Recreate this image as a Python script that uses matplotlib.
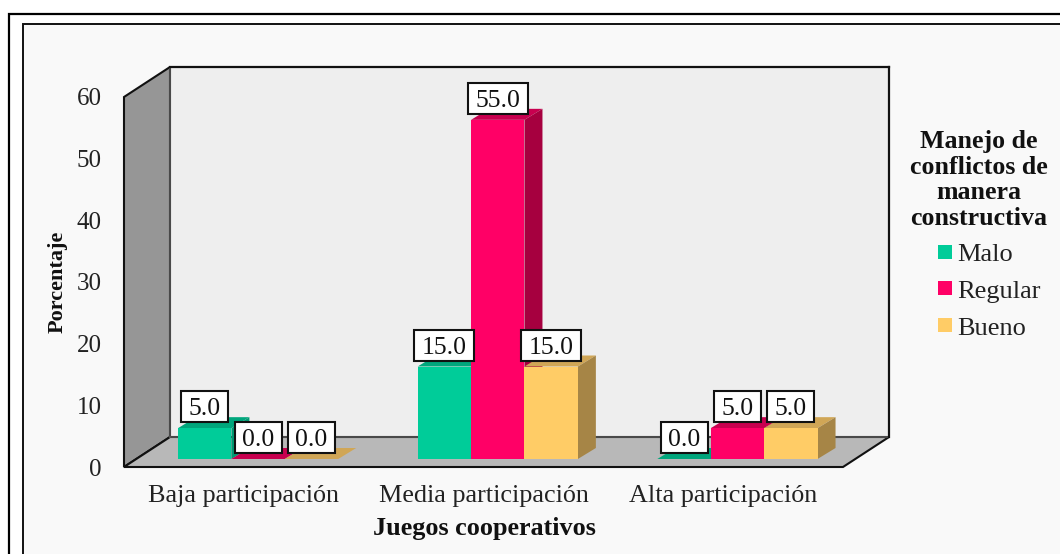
## 3D style grouped bar chart drawn on flat axes

import matplotlib
matplotlib.use('Agg')
import matplotlib.pyplot as plt
from matplotlib.patches import Polygon, Rectangle
from matplotlib.transforms import IdentityTransform

WIDTH = 1060
HEIGHT = 554

categories = ['Baja participación', 'Media participación', 'Alta participación']
series_names = ['Malo', 'Regular', 'Bueno']
malo = [5.0, 15.0, 0.0]
regular = [0.0, 55.0, 5.0]
bueno = [0.0, 15.0, 5.0]
y_ticks = [0, 10, 20, 30, 40, 50, 60]

legend_title = 'Manejo de\nconflictos de\nmanera\nconstructiva'
x_title = 'Juegos cooperativos'
y_title = 'Porcentaje'

# front, top and side colour of each series
front_colors = ['#00CC99', '#FF0066', '#FFCC66']
top_colors = ['#00A67C', '#C8004F', '#D0A656']
side_colors = ['#009973', '#A6003F', '#A68546']

# plot box in pixels (origin at the bottom)
LEFT, RIGHT = 124, 843
BOTTOM, TOP = HEIGHT - 467, HEIGHT - 97

# depths in pixels, turned into data units below
WALL_DX, WALL_DY = 46, 30
BAR_DX, BAR_DY = 18, 11
FLOOR_DX, FLOOR_DY = 8, 8
BAR_W = 53.4
BOX_W, BOX_H, BOX_GAP = 47, 31, 6
BOX_W_PER_CHAR = 13

plt.rcParams['font.family'] = ['Liberation Serif', 'DejaVu Serif']

fig = plt.figure(figsize=(WIDTH / 100, HEIGHT / 100), dpi=100, facecolor='white')

# nested frames behind the chart, they run off the right and bottom edges
fig.add_artist(Rectangle((9, -20), 1100, HEIGHT - 14 + 20, transform=IdentityTransform(),
	facecolor='white', edgecolor='black', lw=1.6, zorder=-2))
fig.add_artist(Rectangle((23, -20), 1100, HEIGHT - 24 + 20, transform=IdentityTransform(),
	facecolor='#F9F9F9', edgecolor='#111111', lw=1.4, zorder=-1))

ax = fig.add_axes([LEFT / WIDTH, BOTTOM / HEIGHT, (RIGHT - LEFT) / WIDTH, (TOP - BOTTOM) / HEIGHT])
ax.set_xlim(0, len(categories))
ax.set_ylim(0, 60)
ax.patch.set_visible(False)
for spine in ax.spines.values():
	spine.set_visible(False)

ux = len(categories) / (RIGHT - LEFT)
uy = 60 / (TOP - BOTTOM)
wdx, wdy = WALL_DX * ux, WALL_DY * uy
bdx, bdy = BAR_DX * ux, BAR_DY * uy
fdx, fdy = FLOOR_DX * ux, FLOOR_DY * uy
bw = BAR_W * ux
xmax = len(categories)


def poly(points, face, edge='none', lw=0, z=2):
	ax.add_patch(Polygon(points, closed=True, facecolor=face, edgecolor=edge, lw=lw,
		clip_on=False, zorder=z, joinstyle='miter'))


# walls and floor
poly([(wdx, wdy), (xmax + wdx, wdy), (xmax + wdx, 60 + wdy), (wdx, 60 + wdy)], '#EEEEEE', '#222222', 1.4, 1)
poly([(0, 0), (wdx, wdy), (wdx, 60 + wdy), (0, 60)], '#969696', '#111111', 1.5, 1.1)
poly([(0, 0), (xmax, 0), (xmax + wdx, wdy), (wdx, wdy)], '#B8B8B8', '#111111', 1.5, 1.2)
ax.plot([wdx, wdx], [wdy, 60 + wdy], color='#555555', lw=1.2, clip_on=False, zorder=1.3)
ax.plot([wdx, xmax + wdx], [wdy, wdy], color='#555555', lw=1.2, clip_on=False, zorder=1.3)
ax.plot([wdx, xmax + wdx], [60 + wdy, 60 + wdy], color='#111111', lw=1.6, clip_on=False, zorder=1.3)
ax.plot([xmax + wdx, xmax + wdx], [wdy, 60 + wdy], color='#111111', lw=1.6, clip_on=False, zorder=1.3)

# bars, left to right so each one hides the side of the previous one
group_start = (178 - LEFT) * ux
z = 3
for c in range(len(categories)):
	for s, values in enumerate([malo, regular, bueno]):
		v = values[c]
		x0 = c + group_start + s * bw
		x1 = x0 + bw
		base = fdy
		top = base + v
		poly([(x0, top), (x1, top), (x1 + bdx, top + bdy), (x0 + bdx, top + bdy)], top_colors[s], z=z)
		poly([(x1, base), (x1 + bdx, base + bdy), (x1 + bdx, top + bdy), (x1, top)], side_colors[s], z=z)
		ax.bar(x0, v, width=bw, bottom=base, align='edge', color=front_colors[s], zorder=z + 0.1, clip_on=False)
		z += 0.2

# value boxes stay above every bar, wider for two digit values
box_h = BOX_H * uy
box_gap = BOX_GAP * uy
for c in range(len(categories)):
	for s, values in enumerate([malo, regular, bueno]):
		v = values[c]
		label = '%.1f' % v
		box_w = (BOX_W + BOX_W_PER_CHAR * (len(label) - 3)) * ux
		x = c + group_start + (s + 0.5) * bw
		y0 = fdy + v + box_gap
		ax.add_patch(Rectangle((x - box_w / 2, y0), box_w, box_h, facecolor='white',
			edgecolor='#111111', lw=1.5, clip_on=False, zorder=19 + 0.01 * s))
		ax.text(x, y0 + box_h / 2, label, ha='center', va='center_baseline',
			fontsize=18.5, color='#111111', zorder=20)

ax.set_yticks(y_ticks)
ax.set_xticks([c + 0.5 for c in range(len(categories))])
ax.set_xticklabels(categories)
ax.tick_params(axis='y', length=0, pad=16, labelsize=18, labelcolor='#222222')
ax.tick_params(axis='x', length=0, pad=13, labelsize=18.8, labelcolor='#222222')

# axis titles
fig.text(484 / WIDTH, 1 - 528 / HEIGHT, x_title, ha='center', va='center',
	fontsize=18.8, fontweight='bold', color='#111111')
fig.text(58 / WIDTH, 1 - 282 / HEIGHT, y_title, rotation=90, ha='center', va='center',
	fontsize=16, fontweight='bold', color='#111111')

# legend
fig.text(979 / WIDTH, 1 - 180 / HEIGHT, legend_title, ha='center', va='center', ma='center',
	fontsize=18.6, fontweight='bold', color='#111111', linespacing=1.15)
handles = [Rectangle((0, 0), 1, 1, facecolor=col, edgecolor='none') for col in front_colors]
fig.legend(handles, series_names, loc='upper left', bbox_to_anchor=(938 / WIDTH, 1 - 244 / HEIGHT),
	frameon=False, fontsize=19, labelcolor='#222222', handlelength=0.54, handleheight=0.44,
	handletextpad=0.2, labelspacing=0.56, borderpad=0, borderaxespad=0)

fig.savefig('out.png', dpi=100)
plt.close()
